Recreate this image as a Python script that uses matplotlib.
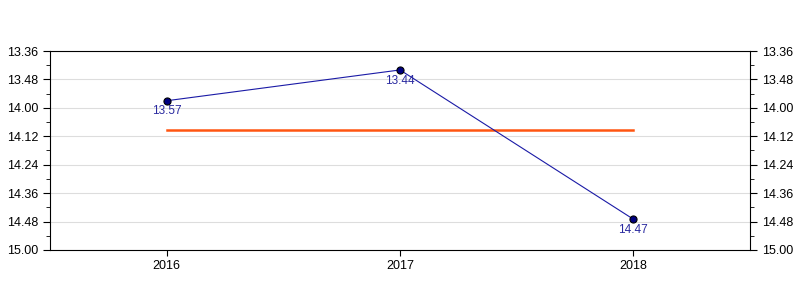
import numpy as np
import matplotlib.pyplot as plt
from matplotlib.ticker import FixedLocator, FuncFormatter

plt.rcParams['font.family'] = ['Liberation Sans', 'DejaVu Sans']

years = ['2016', '2017', '2018']
# times as minutes.seconds
times = ['13.57', '13.44', '14.47']

def to_sec(s):
    m, sec = s.split('.')
    return int(m) * 60 + int(sec)

def fmt(v, pos=None):
    v = int(round(v))
    return '%d.%02d' % (v // 60, v % 60)

secs = np.array([to_sec(t) for t in times])
avg = secs.mean()
x = np.arange(len(years))

fig = plt.figure(figsize=(8, 3), dpi=100)
ax = fig.add_axes([0.0625, 0.1667, 0.875, 0.6633])

major = np.arange(816, 901, 12)
minor = np.arange(822, 900, 12)

ax.plot(x, secs, color='#1a1aa6', linewidth=0.8, zorder=3)
ax.scatter(x, secs, s=26, color='#000080', edgecolors='black', linewidths=0.8, zorder=4)
ax.plot([x[0], x[-1]], [avg, avg], color='#ff5511', linewidth=1.8, zorder=2)
for xi, s, t in zip(x, secs, times):
    ax.text(xi, s + 2.0, t, ha='center', va='top', fontsize=8.5, color='#2a2aa0')

ax.set_xlim(-0.5, 2.5)
ax.set_ylim(900, 816)
ax.set_xticks(x)
ax.set_xticklabels(years)
ax.yaxis.set_major_locator(FixedLocator(major))
ax.yaxis.set_minor_locator(FixedLocator(minor))
ax.yaxis.set_major_formatter(FuncFormatter(fmt))
ax.tick_params(axis='y', which='both', left=True, right=True, labelleft=True, labelright=True, labelsize=9)
ax.tick_params(axis='y', which='major', length=5)
ax.tick_params(axis='y', which='minor', length=3)
ax.tick_params(axis='x', labelsize=9, length=4)
ax.grid(axis='y', which='major', color='#dddddd', linewidth=0.8)
ax.set_axisbelow(True)

plt.savefig('out.png', dpi=100)
